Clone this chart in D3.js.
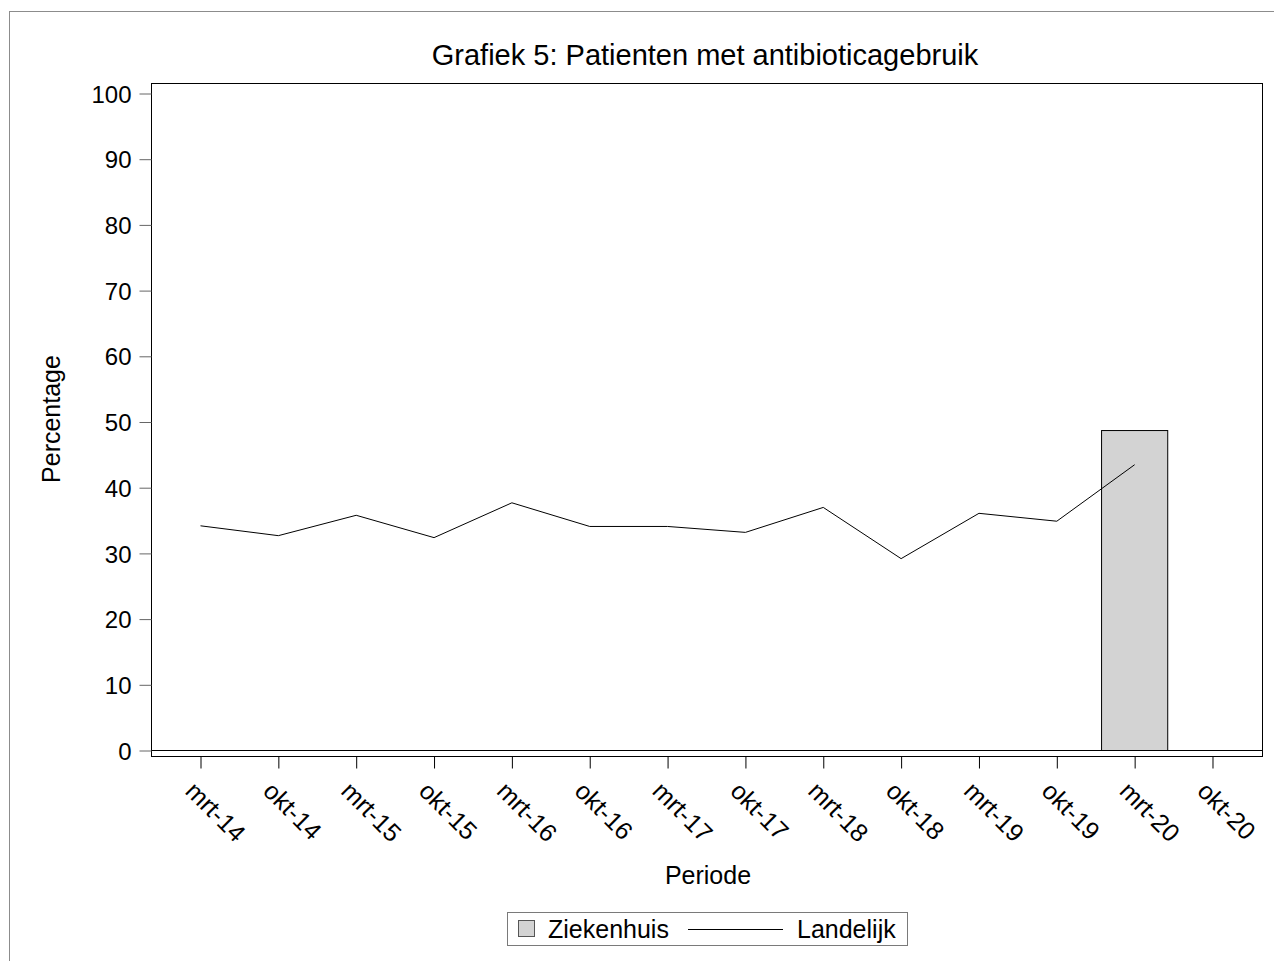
<!DOCTYPE html>
<html>
<head>
<meta charset="utf-8">
<script src="https://cdn.jsdelivr.net/npm/d3@7"></script>
<style>
  body { margin: 0; background: #fff; }
  text { font-family: "Liberation Sans", Arial, sans-serif; fill: #000; }
</style>
</head>
<body>
<div id="chart"></div>
<script>
// periods on the x axis
var periods = ["mrt-14", "okt-14", "mrt-15", "okt-15", "mrt-16", "okt-16", "mrt-17",
    "okt-17", "mrt-18", "okt-18", "mrt-19", "okt-19", "mrt-20", "okt-20"];

// Landelijk (national) line
var landelijk = [34.2, 32.7, 35.8, 32.4, 37.7, 34.1, 34.1, 33.2, 37.0, 29.2, 36.1, 34.9, 43.5, null];

// Ziekenhuis (hospital) bars
var ziekenhuis = [null, null, null, null, null, null, null, null, null, null, null, null, 48.7, null];

var yTicks = [0, 10, 20, 30, 40, 50, 60, 70, 80, 90, 100];

var W = 1274, H = 961;
var plot = {left: 151, right: 1262, top: 83, bottom: 756};

var svg = d3.select("#chart")
    .append("svg")
    .attr("width", W)
    .attr("height", H);

// outer border (only top/left visible)
svg.append("rect")
    .attr("x", 9.5).attr("y", 11.5)
    .attr("width", W + 20).attr("height", H + 20)
    .attr("fill", "none")
    .attr("stroke", "#8c8c8c");

var x = d3.scalePoint()
    .domain(periods)
    .range([plot.left, plot.right])
    .padding(0.636);

var y = d3.scaleLinear()
    .domain([0, 100])
    .range([750.5, 93.5]);

// title
svg.append("text")
    .attr("x", 705).attr("y", 65)
    .attr("text-anchor", "middle")
    .style("font-size", "29px")
    .text("Grafiek 5: Patienten met antibioticagebruik");

// bars
var bw = x.step() * 0.85;
svg.append("g")
    .selectAll("rect")
    .data(periods.map(function (p, i) { return {p: p, v: ziekenhuis[i]}; })
        .filter(function (d) { return d.v != null; }))
    .enter()
    .append("rect")
    .attr("x", function (d) { return x(d.p) - bw / 2; })
    .attr("y", function (d) { return y(d.v); })
    .attr("width", bw)
    .attr("height", function (d) { return y(0) - y(d.v); })
    .attr("fill", "#d3d3d3")
    .attr("stroke", "#000");

// line
var line = d3.line()
    .defined(function (d) { return d.v != null; })
    .x(function (d) { return x(d.p); })
    .y(function (d) { return y(d.v); });

svg.append("path")
    .datum(periods.map(function (p, i) { return {p: p, v: landelijk[i]}; }))
    .attr("d", line)
    .attr("fill", "none")
    .attr("stroke", "#000")
    .attr("stroke-width", 1);

// zero line
svg.append("line")
    .attr("x1", plot.left).attr("x2", plot.right)
    .attr("y1", y(0)).attr("y2", y(0))
    .attr("stroke", "#000");

// frame
svg.append("rect")
    .attr("x", plot.left + 0.5).attr("y", plot.top + 0.5)
    .attr("width", plot.right - plot.left).attr("height", plot.bottom - plot.top)
    .attr("fill", "none")
    .attr("stroke", "#000");

// y axis
var yAxis = svg.append("g")
    .attr("transform", "translate(" + (plot.left + 0.5) + ",0)")
    .call(d3.axisLeft(y).tickValues(yTicks).tickSize(12).tickPadding(8));
yAxis.select(".domain").remove();
yAxis.selectAll(".tick line").attr("stroke", "#666");
yAxis.selectAll(".tick text")
    .attr("dy", "0.36em")
    .style("font-size", "24px")
    .style("font-family", "'Liberation Sans', Arial, sans-serif");

// x axis
var xAxis = svg.append("g")
    .attr("transform", "translate(0," + (plot.bottom + 0.5) + ")")
    .call(d3.axisBottom(x).tickSize(12));
xAxis.select(".domain").remove();
xAxis.selectAll(".tick line").attr("stroke", "#000");
xAxis.selectAll(".tick text")
    .attr("text-anchor", "start")
    .attr("x", -17)
    .attr("y", 36)
    .attr("dy", 0)
    .attr("transform", function () {
        return "rotate(45," + (-17) + ",36)";
    })
    .style("font-size", "25px")
    .style("font-family", "'Liberation Sans', Arial, sans-serif");

// axis titles
svg.append("text")
    .attr("transform", "translate(60,419) rotate(-90)")
    .attr("text-anchor", "middle")
    .style("font-size", "25px")
    .text("Percentage");

svg.append("text")
    .attr("x", 708).attr("y", 884)
    .attr("text-anchor", "middle")
    .style("font-size", "25px")
    .text("Periode");

// legend
var lg = svg.append("g");
lg.append("rect")
    .attr("x", 507.5).attr("y", 912.5)
    .attr("width", 400).attr("height", 33)
    .attr("fill", "#fff")
    .attr("stroke", "#7a7a7a");
lg.append("rect")
    .attr("x", 518.5).attr("y", 920.5)
    .attr("width", 16).attr("height", 16)
    .attr("fill", "#d3d3d3")
    .attr("stroke", "#555");
lg.append("text")
    .attr("x", 548).attr("y", 938)
    .style("font-size", "25px")
    .text("Ziekenhuis");
lg.append("line")
    .attr("x1", 688).attr("x2", 783)
    .attr("y1", 929.5).attr("y2", 929.5)
    .attr("stroke", "#000");
lg.append("text")
    .attr("x", 797).attr("y", 938)
    .style("font-size", "25px")
    .text("Landelijk");
</script>
</body>
</html>
